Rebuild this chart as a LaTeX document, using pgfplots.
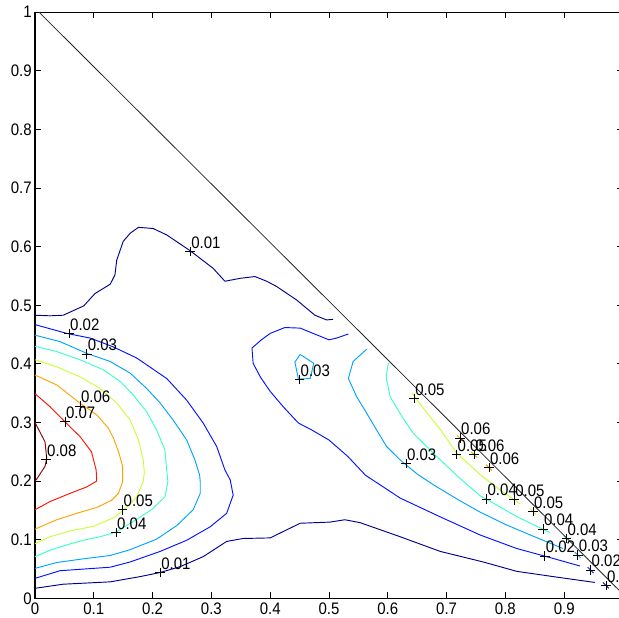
\documentclass[border=0pt]{standalone}
\usepackage{pgfplots}
\pgfplotsset{compat=1.18}
\usepackage{fontspec}
\setmainfont{Liberation Sans}[FakeStretch=0.9]
\definecolor{c1}{rgb}{0,0,0.56}
\definecolor{c2}{rgb}{0,0.07,1}
\definecolor{c3}{rgb}{0,0.64,1}
\definecolor{c4}{rgb}{0.21,1,0.79}
\definecolor{c5}{rgb}{0.79,1,0.21}
\definecolor{c6}{rgb}{1,0.64,0}
\definecolor{c7}{rgb}{1,0.07,0}
\definecolor{c8}{rgb}{0.56,0,0}
\begin{document}
\begin{tikzpicture}
\begin{axis}[
  at={(0,0)}, anchor=south west,
  scale only axis, width=441pt, height=439.5pt,
  xmin=0, xmax=1, ymin=0, ymax=1,
  xtick={0,0.1,0.2,0.3,0.4,0.5,0.6,0.7,0.8,0.9,1},
  xticklabels={0,0.1,0.2,0.3,0.4,0.5,0.6,0.7,0.8,0.9,},
  ytick={0,0.1,0.2,0.3,0.4,0.5,0.6,0.7,0.8,0.9,1},
  yticklabels={0,0.1,0.2,0.3,0.4,0.5,0.6,0.7,0.8,0.9,1},
  tick align=inside, major tick length=4.5pt,
  axis line style={line width=0.8pt},
  tick style={line width=0.6pt, black},
  ticklabel style={font=\fontsize{12.5}{14}\selectfont},
  yticklabel style={xshift=1pt},
  /pgf/number format/assume math mode=true,
  clip=false,
  every axis plot/.append style={line width=0.7pt},
]
% 0.01
\addplot[c1] coordinates {(0,0.483)(0.0255,0.482)(0.048,0.483)(0.083,0.499)(0.102,0.520)(0.128,0.536)(0.136,0.552)(0.139,0.577)(0.150,0.609)(0.162,0.623)(0.176,0.633)(0.201,0.631)(0.224,0.620)(0.264,0.593)(0.303,0.563)(0.323,0.541)(0.349,0.546)(0.374,0.549)(0.394,0.541)(0.411,0.532)(0.445,0.509)(0.476,0.483)(0.496,0.475)(0.507,0.476)};
\addplot[c1] coordinates {(0,0.017)(0.048,0.024)(0.128,0.028)(0.179,0.037)(0.213,0.044)(0.247,0.054)(0.286,0.071)(0.326,0.097)(0.354,0.102)(0.40,0.103)(0.451,0.128)(0.502,0.130)(0.527,0.134)(0.553,0.129)(0.621,0.105)(0.689,0.080)(0.762,0.062)(0.819,0.046)(0.881,0.037)(0.952,0.027)};
% 0.02
\addplot[c2] coordinates {(0,0.467)(0.054,0.452)(0.094,0.444)(0.133,0.429)(0.173,0.410)(0.224,0.375)(0.258,0.338)(0.286,0.299)(0.309,0.259)(0.323,0.219)(0.332,0.202)(0.337,0.176)(0.326,0.145)(0.298,0.122)(0.258,0.099)(0.213,0.080)(0.162,0.062)(0.128,0.053)(0.0425,0.047)(0,0.034)};
\addplot[c2] coordinates {(0.533,0.451)(0.513,0.444)(0.500,0.441)(0.473,0.452)(0.451,0.461)(0.425,0.462)(0.400,0.452)(0.385,0.441)(0.369,0.427)(0.371,0.401)(0.383,0.378)(0.400,0.353)(0.422,0.327)(0.448,0.299)(0.471,0.287)(0.500,0.270)(0.532,0.242)(0.562,0.210)(0.621,0.171)(0.689,0.139)(0.757,0.108)(0.819,0.085)(0.881,0.068)(0.927,0.055)};
% 0.03
\addplot[c3] coordinates {(0,0.449)(0.0425,0.438)(0.088,0.418)(0.128,0.404)(0.162,0.384)(0.190,0.358)(0.213,0.333)(0.235,0.304)(0.258,0.270)(0.272,0.236)(0.280,0.210)(0.281,0.199)(0.281,0.179)(0.269,0.151)(0.241,0.124)(0.207,0.101)(0.162,0.083)(0.128,0.073)(0.08,0.067)(0.037,0.061)(0,0.051)};
\addplot[c3] coordinates {(0.451,0.416)(0.442,0.403)(0.448,0.374)(0.468,0.375)(0.474,0.401)(0.451,0.416)};
\addplot[c3] coordinates {(0.564,0.425)(0.541,0.404)(0.533,0.375)(0.547,0.344)(0.564,0.316)(0.581,0.287)(0.598,0.259)(0.621,0.236)(0.65,0.212)(0.677,0.194)(0.72,0.168)(0.757,0.147)(0.80,0.126)(0.847,0.106)(0.898,0.085)};
% 0.04
\addplot[c4] coordinates {(0,0.430)(0.037,0.421)(0.0765,0.407)(0.116,0.390)(0.145,0.370)(0.167,0.347)(0.190,0.318)(0.207,0.287)(0.221,0.253)(0.224,0.219)(0.226,0.199)(0.221,0.173)(0.198,0.151)(0.167,0.131)(0.138,0.113)(0.111,0.105)(0.082,0.099)(0.054,0.091)(0.0255,0.082)(0,0.071)};
\addplot[c4] coordinates {(0.601,0.401)(0.597,0.378)(0.604,0.344)(0.624,0.310)(0.643,0.282)(0.68,0.245)(0.72,0.207)(0.757,0.175)(0.768,0.169)(0.82,0.139)(0.876,0.112)};
% 0.05
\addplot[c5] coordinates {(0,0.407)(0.037,0.395)(0.0765,0.378)(0.111,0.358)(0.139,0.333)(0.162,0.304)(0.176,0.270)(0.184,0.236)(0.186,0.215)(0.184,0.199)(0.173,0.173)(0.156,0.155)(0.135,0.138)(0.10,0.123)(0.06,0.115)(0.0255,0.105)(0,0.093)};
\addplot[c5] coordinates {(0.641,0.350)(0.66,0.325)(0.69,0.287)(0.717,0.248)(0.757,0.211)(0.791,0.185)(0.825,0.161)};
% 0.06
\addplot[c6] coordinates {(0,0.381)(0.037,0.364)(0.0765,0.333)(0.105,0.313)(0.125,0.290)(0.134,0.272)(0.143,0.247)(0.149,0.225)(0.149,0.199)(0.142,0.179)(0.130,0.167)(0.105,0.155)(0.071,0.145)(0.037,0.134)(0,0.118)};
% 0.07
\addplot[c7] coordinates {(0,0.349)(0.0255,0.327)(0.051,0.301)(0.0765,0.276)(0.096,0.250)(0.104,0.219)(0.105,0.200)(0.088,0.190)(0.0595,0.179)(0.0255,0.165)(0,0.151)};
% 0.08
\addplot[c8] coordinates {(0,0.300)(0.017,0.267)(0.020,0.239)(0.017,0.225)(0.002,0.202)(0,0.200)};
% tiny contours along the boundary
\addplot[c6] coordinates {(0.718,0.278)(0.728,0.268)};
\addplot[c6] coordinates {(0.742,0.250)(0.752,0.240)};
\addplot[c6] coordinates {(0.767,0.228)(0.777,0.218)};
\addplot[c5] coordinates {(0.842,0.153)(0.852,0.143)};
\addplot[c4] coordinates {(0.899,0.107)(0.909,0.097)};
\addplot[c3] coordinates {(0.918,0.079)(0.928,0.069)};
\addplot[c2] coordinates {(0.940,0.053)(0.950,0.043)};
\addplot[c1] coordinates {(0.966,0.027)(0.976,0.017)};
% boundary line
\addplot[black!85, line width=0.6pt] coordinates {(0.007,1)(1,0.007)};
% labels
\addplot[only marks, mark=+, mark size=3.6pt, mark options={line width=0.6pt, black},
  nodes near coords, point meta=explicit symbolic,
  nodes near coords align={anchor=base west},
  every node near coord/.append style={inner sep=0pt, yshift=2.5pt, xshift=0.5pt, text=black, font=\fontsize{12.5}{14}\selectfont}]
  table[meta=l] {
x y l
0.264 0.592 0.01
0.058 0.452 0.02
0.088 0.417 0.03
0.0765 0.328 0.06
0.051 0.301 0.07
0.019 0.237 0.08
0.149 0.151 0.05
0.138 0.112 0.04
0.213 0.044 0.01
0.450 0.373 0.03
0.645 0.341 0.05
0.723 0.273 0.06
0.717 0.245 0.05
0.747 0.245 0.06
0.772 0.223 0.06
0.631 0.230 0.03
0.768 0.169 0.04
0.815 0.168 0.05
0.847 0.148 0.05
0.864 0.118 0.04
0.904 0.102 0.04
0.867 0.072 0.02
0.923 0.074 0.03
0.945 0.048 0.02
0.971 0.022 0.01
};
\end{axis}
\pgfresetboundingbox
\useasboundingbox (-26.25pt,-14.8pt) rectangle (438pt,448.7pt);
\end{tikzpicture}
\end{document}
